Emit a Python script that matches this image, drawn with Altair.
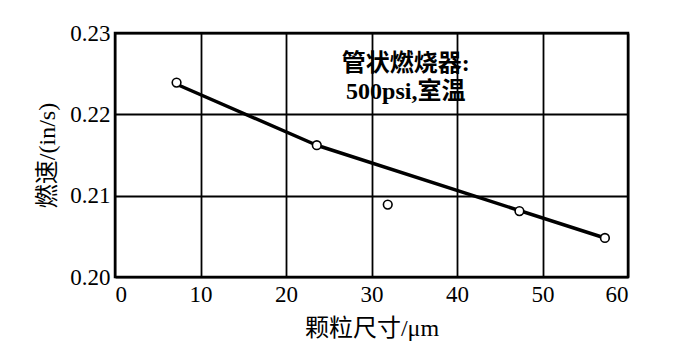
import altair as alt
import pandas as pd

# measured points
size_um = [7.2, 23.6, 31.9, 47.3, 57.3]
burn_rate = [0.2239, 0.2162, 0.2089, 0.2081, 0.2048]

# fitted curve
fit_x = [7.2, 23.6, 41.9, 57.3]
fit_y = [0.2237, 0.2162, 0.2100, 0.2048]

ann_lines = ["管状燃烧器:", "500psi,室温"]
ann_x = [34, 34]
ann_y = [0.2262, 0.2227]

x_ticks = [0, 10, 20, 30, 40, 50, 60]
y_ticks = [0.20, 0.21, 0.22, 0.23]

FONT = "'Liberation Serif', 'Times New Roman', 'Noto Sans CJK SC', serif"

pts = pd.DataFrame({"x": size_um, "y": burn_rate})
fit = pd.DataFrame({"x": fit_x, "y": fit_y})
ann = pd.DataFrame({"x": ann_x, "y": ann_y, "t": ann_lines})

xs = alt.Scale(domain=[0, 60], nice=False)
ys = alt.Scale(domain=[0.20, 0.23], nice=False, zero=False)

xax = alt.Axis(values=x_ticks, title="颗粒尺寸/μm", grid=True, ticks=False,
               labelPadding=6, titlePadding=10, domain=False)
yax = alt.Axis(values=y_ticks, format=".2f", title="燃速/(in/s)", grid=True,
               ticks=False, labelPadding=5, titlePadding=10, domain=False)

line = alt.Chart(fit).mark_line(color="black", strokeWidth=3.5,
                                strokeJoin="round").encode(
    x=alt.X("x:Q", scale=xs, axis=xax),
    y=alt.Y("y:Q", scale=ys, axis=yax),
)

points = alt.Chart(pts).mark_point(shape="circle", filled=False, fill="white",
                                   color="black", size=75, strokeWidth=1.6,
                                   opacity=1).encode(
    x=alt.X("x:Q", scale=xs),
    y=alt.Y("y:Q", scale=ys),
)

text = alt.Chart(ann).mark_text(font=FONT, fontSize=24, fontWeight="bold",
                                color="black").encode(
    x=alt.X("x:Q", scale=xs),
    y=alt.Y("y:Q", scale=ys),
    text="t:N",
)

chart = (line + points + text).properties(
    width=513, height=244,
    autosize=alt.AutoSizeParams(type="none"),
    padding={"left": 107, "top": 25, "right": 40, "bottom": 82},
).configure_axis(
    gridColor="black", gridWidth=1.8, gridOpacity=1,
    labelFont=FONT, titleFont=FONT, labelFontSize=23, titleFontSize=24,
    labelColor="black", titleColor="black", titleFontWeight="normal",
).configure_view(
    stroke="black", strokeWidth=2.5
)

chart.save("out.html", embed_options={"renderer": "svg", "actions": False})
